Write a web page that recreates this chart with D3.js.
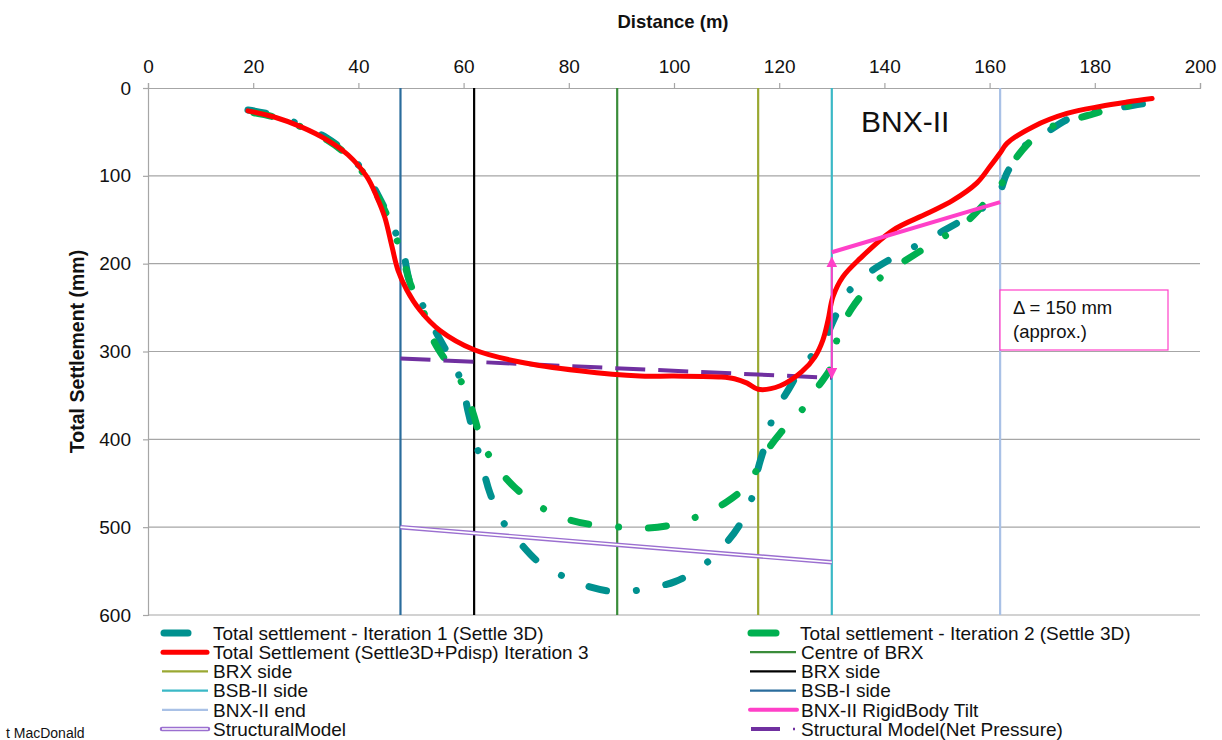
<!DOCTYPE html>
<html><head><meta charset="utf-8">
<script src="https://cdn.jsdelivr.net/npm/d3@7"></script>
<style>
body{margin:0;background:#fff}
text{font-family:"Liberation Sans",Arial,sans-serif;fill:#111}
</style></head>
<body><svg id="c" width="1222" height="740"></svg>
<script>
// ---------------- DATA ----------------
const xTicks = [0,20,40,60,80,100,120,140,160,180,200];
const yTicks = [0,100,200,300,400,500,600];

const iter1X = [19,24,29,34,38,41.6,44,46,48.5,49.8,52,54.5,57.4,59.7,60.8,62.2,63.5,65,67.5,70.3,74.5,79.7,84,89.7,95.4,100.2,105.3,109.3,112.2,114.8,116,117.3,119,121.9,124.3,128.3,130.6,132.9,136.9,142,146.2,151.1,156.3,161.4,163.3,166.3,170,175.1,180.6,186.1,191.1];
const iter1Y = [25,31,42,57,75,100,125,150,187,221,245,275,307,336,367,401,429,461,494,515,541,558,568,574,569,562,545,522,500,467,433,407,372,342,318,290,261,234,211,192,179,163,145,124,97,68,54,35,27,21,16];

const iter2X = [19,24,29,34,38,41.6,44,46,48.3,50,52,54,56.8,59.7,61.8,63.5,66,69.6,74.1,78.7,84.2,90.1,94.9,100.6,105.9,110.1,114.4,116.7,120.2,124,127.4,130,131.2,133.8,136.9,141.3,146.2,150.2,155.1,160,162.4,165,169,173.4,178.9,184.2,189.5];
const iter2Y = [27,33,44,59,77,102,127,153,190,225,248,284,312,336,370,403,429,454,475,489,497,500,501,496,484,471,449,422,393,369,340,316,282,251,228,207,188,173,155,125,108,80,54,40,31,22,19];

const iter3X = [19,24,29,34,38,41.6,43.5,45,46.4,47.5,49.2,51.7,55.5,62,70.7,82,93.5,100,109,111.5,113.9,116,120.2,124.3,126.8,128.3,129.3,130.2,132.1,135.4,141.6,148.1,153,157.6,160,162,163.3,168.3,174.7,181,186.1,190.9];
const iter3Y = [26,33,44,59,76,101,124,147,181,207,230,253,276,298,312,322,328,328,329,331,336,343,339,323,306,287,264,238,215,194,162,143,128,108,90,74,63,44,29,21,16,12];

const refNames = ["BSB-I side","BRX side","Centre of BRX","BRX side","BSB-II side","BNX-II end"];
const refX = [48,62,89.2,116,130,162];

const structX = [48,130];
const structY = [500,540];
const netPressX = [48,130];
const netPressY = [308,330];
const tiltX = [130,162];
const tiltY = [187,130];
const deltaX = 130;
const deltaY = [193,330];

const legendLeft = ["Total settlement - Iteration 1 (Settle 3D)","Total Settlement (Settle3D+Pdisp) Iteration 3","BRX side","BSB-II side","BNX-II end","StructuralModel"];
const legendRight = ["Total settlement - Iteration 2 (Settle 3D)","Centre of BRX","BRX side","BSB-I side","BNX-II RigidBody Tilt","Structural Model(Net Pressure)"];

// ---------------- STYLE ----------------
const C = {
  teal:"#00918f", green:"#00b050", red:"#ff0000", magenta:"#ff40c8", purple:"#7030a0",
  structPurple:"#9b6fd0", grid:"#a6a6a6",
  ref:["#2a6c9c","#000000","#3a8c3a","#9aa832","#3ab8c6","#a9c1e6"]
};

const svg = d3.select("#c");
const x = d3.scaleLinear().domain([0,200]).range([148,1200]);
const y = d3.scaleLinear().domain([0,600]).range([88,615]);

// gridlines
svg.append("g").selectAll("line").data(yTicks.slice(1)).join("line")
  .attr("x1",x(0)).attr("x2",x(200)).attr("y1",d=>y(d)).attr("y2",d=>y(d))
  .attr("stroke",C.grid).attr("stroke-width",1.2);

// axes
const xAxis = svg.append("g").attr("transform",`translate(0,${y(0)})`)
  .call(d3.axisTop(x).tickValues(xTicks).tickSize(5).tickPadding(10).tickFormat(d3.format("d")));
const yAxis = svg.append("g").attr("transform",`translate(${x(0)},0)`)
  .call(d3.axisLeft(y).tickValues(yTicks).tickSize(5).tickPadding(12).tickFormat(d3.format("d")));
[xAxis,yAxis].forEach(a=>{
  a.select(".domain").attr("stroke",C.grid).attr("stroke-width",1.2);
  a.selectAll(".tick line").attr("stroke",C.grid).attr("stroke-width",1.2);
  a.selectAll(".tick text").attr("font-size",19).attr("font-family","Liberation Sans, Arial, sans-serif").attr("fill","#111");
});

// axis titles
svg.append("text").attr("x",673).attr("y",28).attr("text-anchor","middle")
  .attr("font-weight","bold").attr("font-size",18.5).text("Distance (m)");
svg.append("text").attr("transform",`translate(84,${(y(0)+y(600))/2}) rotate(-90)`)
  .attr("text-anchor","middle").attr("font-weight","bold").attr("font-size",19.5).text("Total Settlement (mm)");

// reference vertical lines
svg.append("g").selectAll("line").data(refX).join("line")
  .attr("x1",d=>x(d)).attr("x2",d=>x(d)).attr("y1",y(0)).attr("y2",y(600))
  .attr("stroke",(d,i)=>C.ref[i]).attr("stroke-width",2.2);

const line = d3.line().x(d=>x(d[0])).y(d=>y(d[1]));
const smooth = d3.line().x(d=>x(d[0])).y(d=>y(d[1])).curve(d3.curveCatmullRom.alpha(0.5));

// structural model (double line)
const structPts = d3.zip(structX,structY);
svg.append("path").attr("d",line(structPts)).attr("fill","none").attr("stroke",C.structPurple).attr("stroke-width",4.5);
svg.append("path").attr("d",line(structPts)).attr("fill","none").attr("stroke","#fff").attr("stroke-width",1.6);

// iteration 1 & 2
const dash = "18,30,0.01,30";
svg.append("path").attr("d",smooth(d3.zip(iter1X,iter1Y))).attr("fill","none")
  .attr("stroke",C.teal).attr("stroke-width",7).attr("stroke-linecap","round").attr("stroke-dasharray",dash);
svg.append("path").attr("d",smooth(d3.zip(iter2X,iter2Y))).attr("fill","none")
  .attr("stroke",C.green).attr("stroke-width",7).attr("stroke-linecap","round").attr("stroke-dasharray",dash).attr("stroke-dashoffset",-6);

// net pressure dashed
svg.append("path").attr("d",line(d3.zip(netPressX,netPressY))).attr("fill","none")
  .attr("stroke",C.purple).attr("stroke-width",4).attr("stroke-dasharray","30,13");

// iteration 3 red
svg.append("path").attr("d",smooth(d3.zip(iter3X,iter3Y))).attr("fill","none")
  .attr("stroke",C.red).attr("stroke-width",5).attr("stroke-linejoin","round").attr("stroke-linecap","round");

// rigid body tilt
svg.append("path").attr("d",line(d3.zip(tiltX,tiltY))).attr("fill","none")
  .attr("stroke",C.magenta).attr("stroke-width",4);

// delta arrow
const defs = svg.append("defs");
defs.append("marker").attr("id","ah").attr("viewBox","0 0 10 10").attr("refX",9).attr("refY",5)
  .attr("markerWidth",11).attr("markerHeight",11).attr("orient","auto-start-reverse").attr("markerUnits","userSpaceOnUse")
  .append("path").attr("d","M0,0L10,5L0,10Z").attr("fill",C.magenta);
svg.append("line").attr("x1",x(deltaX)).attr("x2",x(deltaX)).attr("y1",y(deltaY[0])).attr("y2",y(deltaY[1]))
  .attr("stroke",C.magenta).attr("stroke-width",2).attr("marker-start","url(#ah)").attr("marker-end","url(#ah)");

// annotation box
svg.append("rect").attr("x",1000).attr("y",290).attr("width",168).attr("height",60)
  .attr("fill","#fff").attr("stroke",C.magenta).attr("stroke-width",1.2);
svg.append("text").attr("x",1013).attr("y",314).attr("font-size",18.5).text("\u0394 = 150 mm");
svg.append("text").attr("x",1013).attr("y",338).attr("font-size",18.5).text("(approx.)");

svg.append("text").attr("x",861).attr("y",132).attr("font-size",30).text("BNX-II");

// legend
const rowY = i => 633 + i*19.2;
const lg = svg.append("g");
lg.selectAll("text.l").data(legendLeft).join("text").attr("class","l")
  .attr("x",213).attr("y",(d,i)=>rowY(i)).attr("dy","0.36em").attr("font-size",19).text(d=>d);
lg.selectAll("text.r").data(legendRight).join("text").attr("class","r")
  .attr("x",(d,i)=>i===0?800:801).attr("y",(d,i)=>rowY(i)).attr("dy","0.36em").attr("font-size",19).text(d=>d);

function seg(x1,x2,yy,col,w,extra){
  const l = lg.append("line").attr("x1",x1).attr("x2",x2).attr("y1",yy).attr("y2",yy)
    .attr("stroke",col).attr("stroke-width",w);
  if(extra) extra(l);
  return l;
}
seg(164,188,rowY(0),C.teal,7,l=>l.attr("stroke-linecap","round"));
seg(163,207,rowY(1),C.red,5,l=>l.attr("stroke-linecap","round"));
seg(162,208,rowY(2),C.ref[3],2.2);
seg(162,208,rowY(3),C.ref[4],2.2);
seg(162,208,rowY(4),C.ref[5],2.2);
seg(162,208,rowY(5),C.structPurple,4.5,l=>l.attr("stroke-linecap","round"));
seg(162,208,rowY(5),"#fff",1.6);

seg(751,776,rowY(0),C.green,7,l=>l.attr("stroke-linecap","round"));
seg(750,796,rowY(1),C.ref[2],2.2);
seg(750,796,rowY(2),C.ref[1],2.2);
seg(750,796,rowY(3),C.ref[0],2.2);
seg(750,797,rowY(4),C.magenta,4,l=>l.attr("stroke-linecap","round"));
seg(751,780,rowY(5),C.purple,4);
seg(793,795,rowY(5),C.purple,2.5);

// footer
svg.append("text").attr("x",6).attr("y",738).attr("font-size",14).text("t MacDonald");
</script></body></html>
